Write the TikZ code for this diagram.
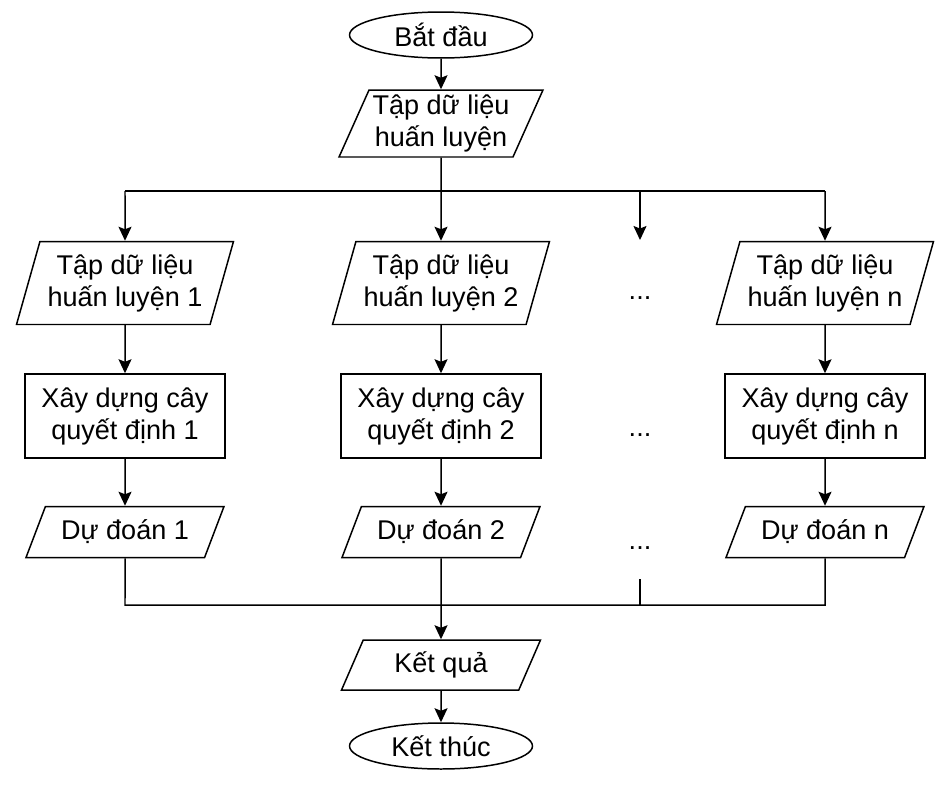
\documentclass[tikz,border=0pt]{standalone}
\usepackage{fontspec}
\setmainfont{Liberation Sans}
\usetikzlibrary{shapes.geometric,arrows.meta}
\begin{document}
\begin{tikzpicture}[x=0.02cm,y=-0.02cm,line width=0.85pt,
  every node/.style={font=\fontsize{15.4}{18.2}\selectfont,align=center,inner sep=2pt},
  terminal/.style={draw,ellipse,minimum width=3.66cm,minimum height=0.92cm},
  iobox/.style 2 args={draw,trapezium,trapezium left angle=#1,trapezium right angle=#2,trapezium stretches body},
  process/.style={draw,rectangle,minimum width=4cm,minimum height=1.68cm},
  arrow/.style={-{Stealth[length=0.28cm,width=0.26cm,inset=0.05cm]}}]
\useasboundingbox (0,0) rectangle (946,788);
% start and training data
\node[terminal] (start) at (441,35) {Bắt đầu};
\node[iobox={65}{115},minimum width=3.96cm,minimum height=1.34cm] (data) at (441,123.5) {Tập dữ liệu\\huấn luyện};
% row 1
\node[iobox={70}{110},minimum width=4.34cm,minimum height=1.66cm] (d1) at (125,283) {Tập dữ liệu\\huấn luyện 1};
\node[iobox={70}{110},minimum width=4.34cm,minimum height=1.66cm] (d2) at (441,283) {Tập dữ liệu\\huấn luyện 2};
\node[iobox={70}{110},minimum width=4.34cm,minimum height=1.66cm] (dn) at (825,283) {Tập dữ liệu\\huấn luyện n};
\node (dots1) at (640,298) {...};
% row 2
\node[process] (b1) at (125,416) {Xây dựng cây\\quyết định 1};
\node[process] (b2) at (441,416) {Xây dựng cây\\quyết định 2};
\node[process] (bn) at (825,416) {Xây dựng cây\\quyết định n};
\node (dots2) at (640,435) {...};
% row 3
\node[iobox={58}{122},minimum width=3.96cm,minimum height=1.02cm] (p1) at (125,532) {Dự đoán 1};
\node[iobox={58}{122},minimum width=3.96cm,minimum height=1.02cm] (p2) at (441,532) {Dự đoán 2};
\node[iobox={58}{122},minimum width=3.96cm,minimum height=1.02cm] (pn) at (825,532) {Dự đoán n};
\node (dots3) at (640,548) {...};
% result and end
\node[iobox={57}{123},minimum width=3.98cm,minimum height=1cm] (result) at (441,665) {Kết quả};
\node[terminal] (stop) at (441,746) {Kết thúc};
% split and merge points
\coordinate (sL) at (125,191);
\coordinate (sR) at (825,191);
\coordinate (sD) at (640,191);
\coordinate (sDend) at (640,240);
\coordinate (mL) at (125,605);
\coordinate (mR) at (825,605);
\coordinate (mD) at (640,605);
\coordinate (mDtop) at (640,579);
% connectors
\draw[arrow] (start) -- (data);
\draw[arrow] (data) -- (d2);
\draw (sL) -- (sR);
\draw[arrow] (sL) -- (d1);
\draw[arrow] (sR) -- (dn);
\draw[arrow] (sD) -- (sDend);
\draw[arrow] (d1) -- (b1);
\draw[arrow] (d2) -- (b2);
\draw[arrow] (dn) -- (bn);
\draw[arrow] (b1) -- (p1);
\draw[arrow] (b2) -- (p2);
\draw[arrow] (bn) -- (pn);
\draw (p1) -- (mL) -- (mR) -- (pn);
\draw (mDtop) -- (mD);
\draw[arrow] (p2) -- (result);
\draw[arrow] (result) -- (stop);
\end{tikzpicture}
\end{document}
